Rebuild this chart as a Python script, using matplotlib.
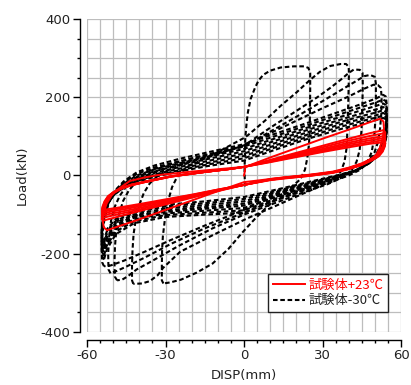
import matplotlib
matplotlib.use("Agg")
import matplotlib.pyplot as plt
from matplotlib.ticker import MultipleLocator

plt.rcParams['font.family'] = ['DejaVu Sans', 'Noto Sans CJK JP']

# ---------------- data ----------------
x_ticks = [-60, -30, 0, 30, 60]
y_ticks = [-400, -200, 0, 200, 400]
legend_labels = ["試験体+23℃", "試験体-30℃"]

# --- specimen -30C (black dashed): transient cycles with growing amplitude
blk_c1 = [(0.3, -28), (0.3, -10), (0.2, 10), (0.3, 40), (0.5, 96), (1.0, 135), (1.5, 162),
          (2.5, 195), (4.2, 224), (5.5, 242), (7.3, 257), (10, 268), (14, 276), (19, 279),
          (23, 279), (24.6, 275), (25.3, 262), (25.3, 220), (25.2, 160), (25.1, 110),
          (24.8, 78), (24.2, 45), (23.3, 15), (21.5, -10), (18.7, -26), (13.5, -52),
          (8.8, -80), (4, -112), (-0.8, -147), (-6, -188), (-12, -225), (-18, -248),
          (-24, -266), (-28, -273), (-30.8, -276)]
blk_c2 = [(-30.8, -276), (-31.4, -268), (-31.4, -230), (-31.3, -190), (-31.0, -155),
          (-30.2, -110), (-29, -65), (-27.5, -30), (-25.6, -4), (-21.8, 22), (-16, 40),
          (-10, 60), (-5, 78), (0, 96), (1.5, 103), (8, 140), (14, 178), (20, 212),
          (25.2, 244), (29, 265), (33, 280), (37, 285), (39, 285), (40, 278), (40.1, 260),
          (39.9, 200), (39.6, 130), (39.2, 70), (38.4, 35), (37, 10), (34.5, -8),
          (30, -25), (22, -48), (12, -78), (1.1, -110), (-11.8, -152), (-24.4, -195),
          (-30.9, -236), (-33, -255), (-36, -270), (-39, -276), (-42.3, -277)]
blk_c3 = [(-42.3, -277), (-42.8, -268), (-42.8, -230), (-42.6, -190), (-42.2, -150),
          (-41.3, -110), (-40, -75), (-38.3, -45), (-36, -20), (-32.5, 2), (-27, 20),
          (-20, 36), (-10, 55), (0.4, 78), (10, 122), (20, 165), (28, 200), (33, 224),
          (37, 245), (40, 262), (42, 271), (44.3, 270), (45.3, 262), (45.4, 230),
          (45.2, 170), (44.9, 115), (44.2, 65), (43, 35), (41, 12), (37.5, -5),
          (32, -22), (22, -45), (10, -75), (0, -100), (-12, -135), (-25, -180),
          (-35, -218), (-41, -240), (-44.5, -258), (-46.5, -266), (-48.5, -268)]
blk_c4 = [(-48.5, -268), (-49.4, -258), (-49.5, -220), (-49.3, -180), (-48.8, -140),
          (-47.8, -100), (-46.2, -65), (-44, -38), (-41, -15), (-36, 5), (-28, 24),
          (-18, 42), (-8, 60), (0, 75), (10, 112), (20, 150), (30, 190), (38, 222),
          (43, 242), (46, 254), (48.2, 257), (50, 252), (50.4, 235), (50.4, 190),
          (50.2, 140), (49.7, 95), (48.8, 60), (47, 32), (44.5, 15), (40, 0),
          (33, -17), (22, -40), (10, -68), (0, -95), (-15, -135), (-28, -175),
          (-38, -210), (-45, -233), (-49, -245), (-51, -250)]
blk_c5 = [(-51, -250), (-51.8, -240), (-51.9, -200), (-51.6, -160), (-50.8, -115),
          (-49.4, -80), (-47.5, -52), (-45, -28), (-41, -5), (-35, 15), (-26, 33),
          (-15, 52), (-5, 68), (0, 76), (10, 108), (20, 140), (30, 172), (40, 202),
          (46, 222), (49.5, 232), (51.2, 231), (52.3, 224), (52.6, 200), (52.5, 160),
          (52, 120), (51.2, 85), (49.8, 58), (47.5, 35), (44, 16), (38, -1),
          (30, -18), (20, -38), (8, -63), (0, -88), (-15, -128), (-28, -165),
          (-38, -195), (-46, -218), (-51, -230), (-53.5, -232)]

# --- specimen -30C: stabilised cycles at about +/-54 mm
blk_up_x = [-53.5, -54.2, -54.4, -54.1, -53.3, -51.8, -49.5, -46, -41, -34, -25, -14,
            0, 12, 24, 36, 45, 50.5, 53.2]
blk_up_y = [
    [-232, -222, -190, -150, -110, -72, -40, -15, 8, 26, 42, 59, 80, 107, 134, 162, 183, 197, 206],
    [-215, -206, -176, -140, -104, -70, -41, -18, 4, 21, 36, 53, 74, 101, 128, 155, 175, 187, 194],
    [-205, -196, -168, -135, -102, -70, -43, -21, 0, 16, 31, 47, 68, 95, 122, 148, 167, 178, 184],
    [-195, -187, -161, -130, -99, -69, -45, -24, -4, 11, 26, 42, 62, 89, 116, 141, 159, 169, 175],
    [-187, -179, -155, -126, -97, -69, -46, -27, -8, 7, 21, 37, 56, 83, 110, 135, 152, 161, 167],
    [-180, -172, -150, -122, -95, -69, -47, -29, -11, 3, 17, 32, 50, 77, 104, 129, 145, 154, 160],
    [-173, -166, -144, -119, -93, -68, -48, -31, -14, 0, 13, 28, 44, 72, 98, 123, 139, 148, 153],
    [-166, -160, -139, -116, -91, -68, -48, -32, -17, -3, 10, 24, 38, 66, 93, 117, 133, 142, 147],
]
blk_dn_x = [54.2, 54.6, 54.4, 53.8, 52.6, 50.6, 47.5, 43, 36, 27, 15, 0, -15, -30, -42,
            -49, -52.5]
blk_dn_y = [
    [202, 178, 140, 108, 80, 56, 34, 14, -6, -27, -56, -95, -100, -106, -122, -150, -190],
    [190, 167, 132, 103, 77, 54, 33, 14, -5, -25, -52, -89, -95, -101, -117, -143, -180],
    [180, 158, 124, 98, 74, 52, 32, 13, -4, -23, -48, -83, -90, -97, -112, -137, -172],
    [171, 150, 118, 93, 71, 50, 31, 13, -3, -21, -44, -77, -85, -93, -108, -131, -164],
    [163, 143, 112, 89, 68, 49, 30, 13, -2, -19, -41, -72, -81, -89, -104, -126, -157],
    [156, 137, 107, 85, 66, 48, 30, 13, -1, -17, -38, -66, -76, -84, -100, -121, -150],
    [149, 131, 103, 81, 63, 47, 30, 13, 0, -15, -35, -60, -71, -79, -95, -116, -144],
    [143, 126, 99, 78, 61, 46, 30, 14, 1, -13, -32, -55, -66, -75, -90, -111, -138],
]

# --- specimen +23C (red solid): first cycle
red_c1 = [(0, 0), (0.3, 10), (0.5, 22), (10, 46), (20, 70), (30, 94), (40, 117), (48, 136),
          (52, 145), (53.3, 138), (53.5, 120), (53, 95), (52, 72), (50.5, 52), (47.5, 36),
          (43, 23), (37, 12), (30, 5), (20, -2), (10, -9), (0, -17), (-10, -40), (-20, -64),
          (-30, -88), (-40, -112), (-48, -130), (-52.4, -140), (-53.6, -132), (-54, -115),
          (-53.6, -95), (-52.5, -72), (-50.5, -50), (-47.5, -32), (-43.6, -14), (-38, -5),
          (-33, 1), (-20, 10), (-10, 16), (0, 22)]

# --- specimen +23C: following cycles
red_up_x = [0, 10, 20, 30, 40, 48, 52, 53.4]
red_up_y = [
    [22, 40, 58, 76, 94, 108, 114, 116],
    [22, 38, 55, 72, 89, 101, 106, 108],
    [22, 37, 53, 68, 84, 95, 99, 101],
    [22, 36, 51, 65, 80, 90, 94, 95],
    [22, 35, 49, 62, 76, 85, 89, 90],
    [22, 34, 47, 60, 72, 81, 84, 85],
]
red_dn_x = [54, 53.8, 53, 51.5, 49, 45, 40, 34, 25, 15, 10, 0, -10, -20, -30, -40, -48, -52, -53.6]
red_dn_y = [
    [110, 95, 75, 58, 44, 31, 20, 10, 2, -5, -9, -24, -40, -57, -74, -91, -105, -112, -115],
    [103, 90, 72, 56, 43, 30, 19, 9, 1, -6, -10, -24, -39, -55, -71, -87, -99, -105, -108],
    [96, 85, 69, 54, 42, 29, 18, 8, 0, -6, -10, -24, -38, -53, -68, -83, -94, -99, -102],
    [91, 81, 66, 52, 41, 28, 17, 8, 0, -7, -11, -24, -37, -51, -65, -79, -89, -94, -97],
    [86, 77, 63, 50, 40, 27, 17, 7, -1, -7, -11, -24, -36, -50, -63, -76, -85, -90, -92],
    [82, 74, 61, 49, 39, 27, 16, 7, -1, -8, -12, -24, -36, -49, -61, -73, -82, -86, -88],
]
red_ret_x = [-54.3, -54.1, -53.3, -52, -50, -47, -43, -38, -28, -15, -5, 0]
red_ret_y = [
    [-112, -96, -76, -58, -45, -34, -25, -17, -3, 9, 17, 22],
    [-106, -92, -74, -57, -45, -34, -25, -17, -3, 9, 17, 22],
    [-101, -89, -72, -56, -44, -33, -24, -17, -3, 9, 17, 22],
    [-97, -86, -70, -55, -44, -33, -24, -16, -2, 9, 17, 22],
    [-93, -83, -68, -54, -43, -32, -24, -16, -2, 9, 17, 22],
    [-90, -80, -66, -53, -43, -32, -23, -16, -2, 9, 17, 22],
]

# ---------------- drawing ----------------
fig = plt.figure(figsize=(4.11, 3.85), dpi=100)
ax = fig.add_axes([87 / 411, 1 - 332 / 385, 314 / 411, 313 / 385])

dash = (0, (2.2, 1.3))
bk = dict(color='black', lw=1.5, linestyle=dash, zorder=3)

for cyc in [blk_c1, blk_c2, blk_c3, blk_c4, blk_c5]:
    ax.plot([p[0] for p in cyc], [p[1] for p in cyc], **bk)
for i in range(len(blk_up_y)):
    xs = list(blk_up_x) + list(blk_dn_x)
    ys = list(blk_up_y[i]) + list(blk_dn_y[i])
    if i + 1 < len(blk_up_y):
        xs.append(blk_up_x[0])
        ys.append(blk_up_y[i + 1][0])
    ax.plot(xs, ys, **bk)

rd = dict(color='#ff0000', lw=1.4, linestyle='-', zorder=4)
ax.plot([p[0] for p in red_c1], [p[1] for p in red_c1], **rd)
for i in range(len(red_up_y)):
    xs = list(red_up_x) + list(red_dn_x) + list(red_ret_x)
    ys = list(red_up_y[i]) + list(red_dn_y[i]) + list(red_ret_y[i])
    ax.plot(xs, ys, **rd)

ax.set_xlim(-60, 60)
ax.set_ylim(-400, 400)

ax.xaxis.set_minor_locator(MultipleLocator(5))
ax.yaxis.set_minor_locator(MultipleLocator(50))
ax.set_xticks(x_ticks)
ax.set_yticks(y_ticks)
ax.set_xticklabels([str(v) for v in x_ticks])
ax.set_yticklabels([str(v) for v in y_ticks])

ax.grid(True, which='both', color='#bdbdbd', lw=0.9, zorder=0)
ax.set_axisbelow(True)

for s in ['top', 'right']:
    ax.spines[s].set_visible(False)
ax.spines['left'].set_position(('outward', 5))
ax.spines['bottom'].set_position(('outward', 6))
ax.spines['left'].set_linewidth(1.0)
ax.spines['bottom'].set_linewidth(1.0)

ax.tick_params(which='major', direction='out', length=5, width=1, labelsize=9.5,
               colors='black', labelcolor='#222222')
ax.tick_params(which='minor', direction='out', length=2.5, width=1)
ax.tick_params(axis='y', pad=2)
ax.tick_params(axis='x', pad=1.5)

ax.set_xlabel("DISP(mm)", fontsize=9.5, labelpad=5, color='#222222')
ax.set_ylabel("Load(kN)", fontsize=9.5, labelpad=8, color='#222222')

h1, = ax.plot([], [], color='#ff0000', lw=1.4, linestyle='-')
h2, = ax.plot([], [], color='black', lw=1.5, linestyle=dash)
leg = ax.legend([h1, h2], legend_labels, loc='lower right',
                bbox_to_anchor=(0.959, 0.064), borderaxespad=0.0, frameon=True,
                fancybox=False, edgecolor='#222222', framealpha=1, handlelength=2.4,
                handletextpad=0.3, borderpad=0.35, labelspacing=0.2,
                prop={'family': ['Noto Sans CJK JP', 'DejaVu Sans'], 'size': 9.5})
leg.get_frame().set_linewidth(1.0)
leg.get_texts()[0].set_color('#ff0000')
leg.get_texts()[1].set_color('#222222')
leg.set_zorder(10)

fig.savefig("out.png", dpi=100)
